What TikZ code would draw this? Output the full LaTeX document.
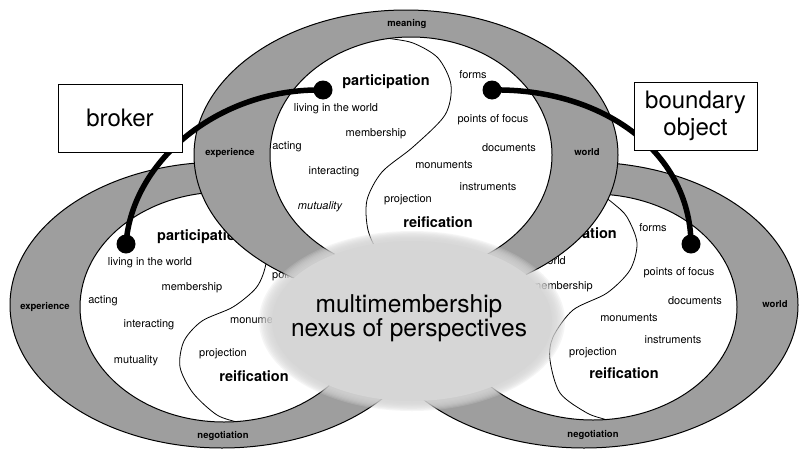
\documentclass[tikz,border=0pt]{standalone}
\usepackage{fontspec}
\setmainfont{TeX Gyre Heros}
\begin{document}
\begin{tikzpicture}[x=1pt,y=-1pt,
  ringfill/.style={fill=black!38, draw=black, line width=1pt},
  innerfill/.style={fill=white, draw=black, line width=1pt},
  divide/.style={draw=black, line width=0.8pt},
  word/.style={inner sep=0pt, font=\fontsize{11}{12}\selectfont},
  wordit/.style={inner sep=0pt, font=\itshape\fontsize{11}{12}\selectfont},
  ringword/.style={inner sep=0pt, font=\bfseries\fontsize{9.5}{10}\selectfont},
  head/.style={inner sep=0pt, font=\bfseries\fontsize{14.5}{16}\selectfont},
  label box/.style={draw=black, line width=1pt, fill=white, minimum width=124pt,
    minimum height=68pt, inner sep=0pt, align=center, font=\fontsize{24}{27}\selectfont},
  hub/.style={circle, fill=black, minimum size=19pt, inner sep=0pt},
  link/.style={line width=5.5pt, line cap=round}
]
\useasboundingbox (0,0) rectangle (800,450);
\fill[white] (0,0) rectangle (800,450);

% ---------- left community ----------
\path[ringfill] (222,305) ellipse [x radius=212pt, y radius=143pt];
\path[innerfill] (224,307) ellipse [x radius=144pt, y radius=115pt];
\begin{scope}
  \clip (224,307) ellipse [x radius=144pt, y radius=115pt];
  \draw[divide] plot[smooth] coordinates {(196,186) (215,193) (240,204) (258,222) (267,245) (265,268)
    (256,288) (233,307) (202,321) (184,341) (180,367) (193,393) (217,415) (240,423) (252,428)};
\end{scope}
\node[head, anchor=west] (lPart) at (157,237) {participation};
\node[word] (lLiving) at (150,263) {living in the world};
\node[word, anchor=west] (lFocus) at (272,276) {points of focus};
\node[word] (lMember) at (192,288) {membership};
\node[word] (lActing) at (103,301) {acting};
\node[ringword] (lExp) at (45,307) {experience};
\node[word] (lInter) at (149,325) {interacting};
\node[word, anchor=west] (lMonu) at (230,320) {monuments};
\node[word] (lMutual) at (136,361) {mutuality};
\node[word] (lProj) at (223,354) {projection};
\node[head] (lReif) at (254,376) {reification};
\node[ringword] (lNeg) at (223,436) {negotiation};

% ---------- right community ----------
\path[ringfill] (584,305) ellipse [x radius=214pt, y radius=143pt];
\path[innerfill] (593,307) ellipse [x radius=144pt, y radius=113pt];
\begin{scope}
  \clip (593,307) ellipse [x radius=144pt, y radius=113pt];
  \draw[divide] plot[smooth] coordinates {(585,188) (600,194) (614,204) (627,217) (637,243) (630,270)
    (607,293) (573,310) (553,337) (550,360) (560,393) (587,413) (607,420) (618,425)};
\end{scope}
\node[head, anchor=east] (rPart) at (617,235) {participation};
\node[word] (rForms) at (653,228) {forms};
\node[word, anchor=east] (rLiving) at (566,262) {living in the world};
\node[word] (rFocus) at (679,273) {points of focus};
\node[word, anchor=east] (rMember) at (593,287) {membership};
\node[ringword] (rWorld) at (775,304) {world};
\node[word] (rDocs) at (695,301) {documents};
\node[word] (rMonu) at (629,318) {monuments};
\node[word] (rInstr) at (673,340) {instruments};
\node[word] (rProj) at (593,353) {projection};
\node[head] (rReif) at (624,373) {reification};
\node[ringword] (rNeg) at (593,435) {negotiation};

% ---------- upper community ----------
\path[ringfill] (406,155) ellipse [x radius=212pt, y radius=145pt];
\path[innerfill] (411,155) ellipse [x radius=141pt, y radius=118pt];
\begin{scope}
  \clip (411,155) ellipse [x radius=141pt, y radius=118pt];
  \draw[divide] plot[smooth] coordinates {(375,34) (387,38) (413,43) (438,58) (451,85) (445,115)
    (413,147) (382,172) (367,200) (368,230) (380,255) (400,272) (410,280)};
\end{scope}
\node[ringword] (tMeaning) at (407,24) {meaning};
\node[head] (tPart) at (386,82) {participation};
\node[word] (tForms) at (473,75) {forms};
\node[word] (tLiving) at (336,109) {living in the world};
\node[word] (tFocus) at (493,120) {points of focus};
\node[word] (tMember) at (376,134) {membership};
\node[word] (tActing) at (287,147) {acting};
\node[ringword] (tExp) at (230,153) {experience};
\node[word] (tDocs) at (509,148) {documents};
\node[ringword] (tWorld) at (587,152) {world};
\node[word] (tInter) at (334,172) {interacting};
\node[word] (tMonu) at (444,165) {monuments};
\node[word] (tInstr) at (488,187) {instruments};
\node[wordit] (tMutual) at (320,207) {mutuality};
\node[word] (tProj) at (408,200) {projection};
\node[head] (tReif) at (438,222) {reification};

% ---------- overlap: soft-edged nexus ----------
\foreach \k in {0,...,7}{
  \fill[black!16, fill opacity=0.22] (412,321)
    ellipse [x radius={153pt-1.6pt*\k}, y radius={90pt-1.1pt*\k}];
}
\fill[black!16] (412,321) ellipse [x radius=140pt, y radius=80pt];
\node[align=center, inner sep=0pt, font=\fontsize{24.5}{24}\selectfont] (nexus) at (409,318)
  {multimembership\\nexus of perspectives};

% ---------- connections across communities ----------
\node[hub] (hubTL) at (323,90) {};
\node[hub] (hubL) at (126,244) {};
\node[hub] (hubTR) at (492,90) {};
\node[hub] (hubR) at (691,244) {};
\draw[link] (hubTL.center) .. controls +(-103,-2) and +(6,-84) .. (hubL.center);
\draw[link] (hubTR.center) .. controls +(108,-2) and +(-1,-94) .. (hubR.center);

\node[label box] (broker) at (120,118) {broker};
\node[label box, minimum width=123pt] (boundary) at (695.5,116) {boundary\\object};
\end{tikzpicture}
\end{document}
